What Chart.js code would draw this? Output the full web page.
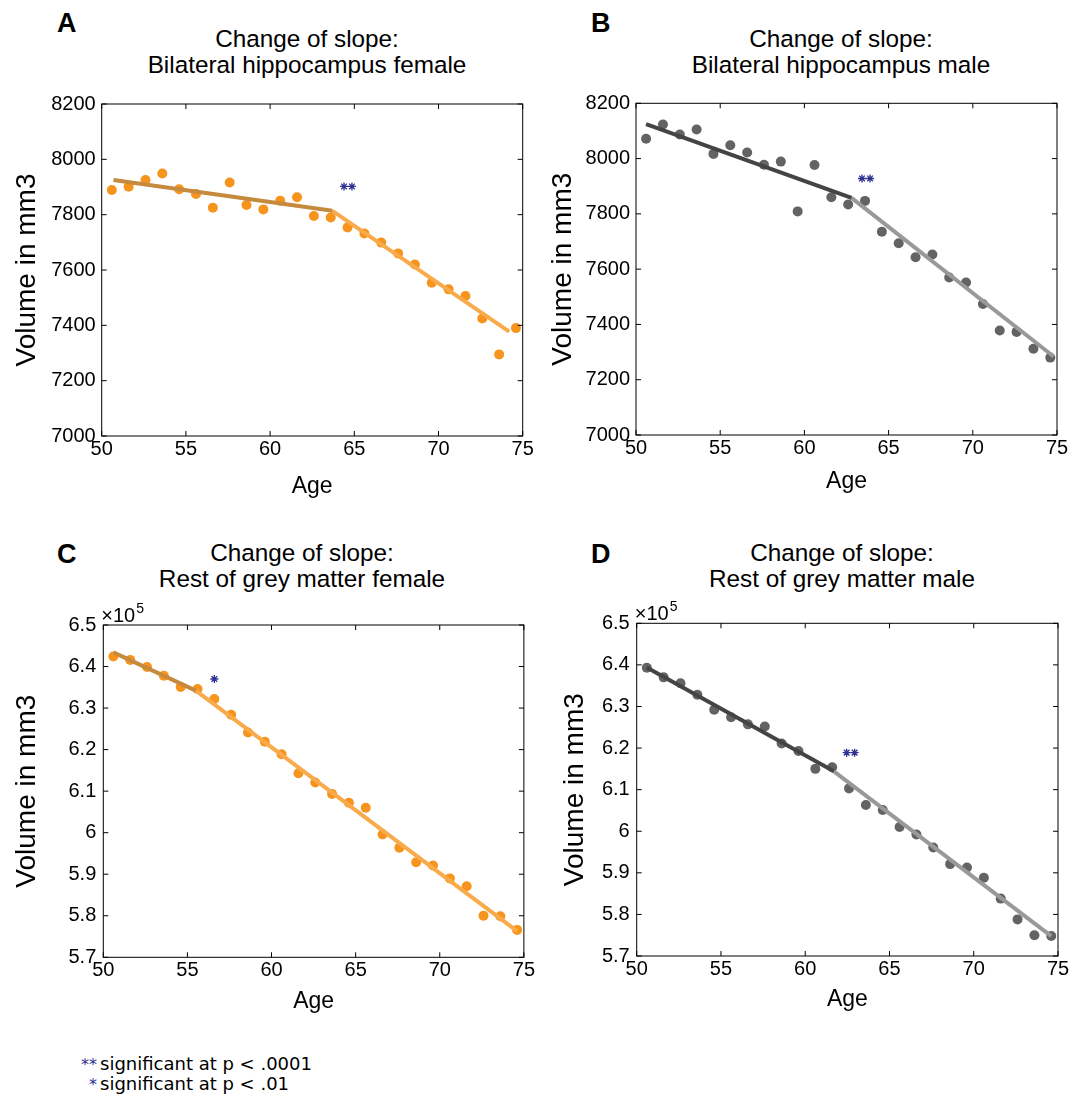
<!DOCTYPE html>
<html>
<head>
<meta charset="utf-8">
<script src="https://cdn.jsdelivr.net/npm/chart.js@4.4.1/dist/chart.umd.min.js"></script>
<style>
  body { margin: 0; background: #fff; width: 1072px; height: 1098px; position: relative; overflow: hidden;
         font-family: "Liberation Sans", Arial, sans-serif; color: #000; }
  canvas { position: absolute; }
  .letter { position: absolute; font-weight: bold; font-size: 27px; line-height: 27px; }
  .title { position: absolute; width: 440px; text-align: center; font-size: 24.3px; line-height: 26px; white-space: nowrap; }
  .note { position: absolute; left: 0; font-family: "DejaVu Sans", sans-serif; font-size: 18px; line-height: 20px; white-space: nowrap; }
  .note span { display: inline-block; width: 97px; padding-right: 3px; text-align: right; color: #2e3192; font-size: 16px; }
</style>
</head>
<body>
<div class="letter" style="left:57px;top:10px">A</div>
<div class="letter" style="left:591px;top:10px">B</div>
<div class="letter" style="left:57px;top:541px">C</div>
<div class="letter" style="left:591px;top:541px">D</div>

<div class="title" style="left:87px;top:25.5px">Change of slope:<br>Bilateral hippocampus female</div>
<div class="title" style="left:621px;top:25.5px">Change of slope:<br>Bilateral hippocampus male</div>
<div class="title" style="left:82px;top:539.5px">Change of slope:<br>Rest of grey matter female</div>
<div class="title" style="left:622px;top:539.5px">Change of slope:<br>Rest of grey matter male</div>

<canvas id="chartA" width="536" height="520" style="left:0;top:0"></canvas>
<canvas id="chartB" width="536" height="520" style="left:536px;top:0"></canvas>
<canvas id="chartC" width="536" height="520" style="left:0;top:530px"></canvas>
<canvas id="chartD" width="536" height="520" style="left:536px;top:530px"></canvas>

<div class="note" style="top:1054px"><span>**</span>significant at p &lt; .0001</div>
<div class="note" style="top:1074px"><span>*</span>significant at p &lt; .01</div>

<script>
const ages = [50.6, 51.6, 52.6, 53.6, 54.6, 55.6, 56.6, 57.6, 58.6, 59.6, 60.6, 61.6, 62.6,
              63.6, 64.6, 65.6, 66.6, 67.6, 68.6, 69.6, 70.6, 71.6, 72.6, 73.6, 74.6];

// hippocampus volumes (mm3)
const hippoFemale = [7889, 7901, 7925, 7949, 7892, 7875, 7825, 7916, 7835, 7819, 7850, 7863, 7795,
                     7790, 7754, 7732, 7699, 7660, 7620, 7554, 7530, 7506, 7425, 7295, 7390];
const hippoMale = [8072, 8123, 8087, 8105, 8017, 8048, 8022, 7978, 7989, 7809, 7977, 7860, 7834,
                   7847, 7735, 7694, 7643, 7653, 7570, 7552, 7474, 7378, 7373, 7312, 7280];

// rest of grey matter (x10^5 mm3)
const greyFemale = [6.424, 6.416, 6.399, 6.378, 6.351, 6.346, 6.322, 6.284, 6.241, 6.219, 6.189, 6.143, 6.121,
                    6.093, 6.072, 6.060, 5.996, 5.964, 5.929, 5.921, 5.890, 5.871, 5.800, 5.799, 5.766];
const greyMale = [6.393, 6.370, 6.356, 6.328, 6.292, 6.274, 6.257, 6.252, 6.211, 6.193, 6.150, 6.154, 6.103,
                  6.063, 6.051, 6.010, 5.992, 5.961, 5.921, 5.913, 5.888, 5.838, 5.788, 5.750, 5.748];

// piecewise fits: [before break, after break]
const fitHippoFemaleX = [[50.7, 63.7], [63.7, 74.2]];
const fitHippoFemaleY = [[7925, 7814], [7814, 7377]];
const fitHippoMaleX = [[50.6, 62.8], [62.8, 74.8]];
const fitHippoMaleY = [[8125, 7858], [7858, 7284]];
const fitGreyFemaleX = [[50.6, 55.5], [55.5, 74.6]];
const fitGreyFemaleY = [[6.434, 6.342], [6.342, 5.763]];
const fitGreyMaleX = [[50.6, 61.7], [61.7, 74.6]];
const fitGreyMaleY = [[6.394, 6.144], [6.144, 5.748]];

// significance asterisks
const starHippoFemaleX = [64.39, 64.86], starHippoFemaleY = [7902, 7902];
const starHippoMaleX = [63.42, 63.9], starHippoMaleY = [7928, 7928];
const starGreyFemaleX = [56.6], starGreyFemaleY = [6.370];
const starGreyMaleX = [62.46, 62.93], starGreyMaleY = [6.189, 6.189];

const xTicksRange = [50, 75, 5];
const hippoRange = [7000, 8200, 200];
const greyRange = [5.7, 6.5, 0.1];

const FONT = '"Liberation Sans", Arial, sans-serif';
const STAR_COLOR = '#2e3192';

const zip = (xs, ys) => xs.map((x, i) => ({ x: x, y: ys[i] }));

// box with inward ticks on all four sides
const boxPlugin = {
  id: 'box',
  afterDraw(chart) {
    const { ctx, chartArea: a, scales } = chart;
    ctx.save();
    ctx.strokeStyle = '#000';
    ctx.lineWidth = 1;
    ctx.strokeRect(a.left, a.top, a.right - a.left, a.bottom - a.top);
    ctx.beginPath();
    scales.x.ticks.forEach(t => {
      const px = scales.x.getPixelForValue(t.value);
      ctx.moveTo(px, a.bottom); ctx.lineTo(px, a.bottom - 5);
      ctx.moveTo(px, a.top); ctx.lineTo(px, a.top + 5);
    });
    scales.y.ticks.forEach(t => {
      const py = scales.y.getPixelForValue(t.value);
      ctx.moveTo(a.left, py); ctx.lineTo(a.left + 5, py);
      ctx.moveTo(a.right, py); ctx.lineTo(a.right - 5, py);
    });
    ctx.stroke();
    ctx.restore();
  }
};

// "x10^5" multiplier above the y axis
const expoPlugin = {
  id: 'expo',
  afterDraw(chart) {
    const { ctx, chartArea: a } = chart;
    ctx.save();
    ctx.fillStyle = '#000';
    ctx.textBaseline = 'alphabetic';
    ctx.font = '20px ' + FONT;
    ctx.fillText('\u00d710', a.left - 2, a.top - 3);
    const w = ctx.measureText('\u00d710').width;
    ctx.font = '14px ' + FONT;
    ctx.fillText('5', a.left - 1 + w, a.top - 12);
    ctx.restore();
  }
};

function makePanel(id, p) {
  const W = 536, H = 520;
  const padLeft = p.yTitleX - p.left - 16.8;
  const yWidth = p.area.l - p.left - padLeft;
  const xHeight = (p.xTitleY + 13.8) - p.area.b;
  const padBottom = p.top + H - (p.area.b + xHeight);

  new Chart(document.getElementById(id), {
    data: {
      datasets: [
        { type: 'line', data: zip(p.fitX[0], p.fitY[0]), borderColor: p.fit1, borderWidth: 4,
          pointRadius: 0, fill: false, order: 1 },
        { type: 'line', data: zip(p.fitX[1], p.fitY[1]), borderColor: p.fit2, borderWidth: 4,
          pointRadius: 0, fill: false, order: 1 },
        { type: 'scatter', data: zip(ages, p.values), backgroundColor: p.dot, borderWidth: 0,
          pointRadius: 5, order: 2 },
        { type: 'scatter', data: zip(p.starX, p.starY), pointStyle: 'star', pointRadius: 4,
          borderColor: STAR_COLOR, borderWidth: 1.3, order: 0 }
      ]
    },
    options: {
      responsive: false,
      animation: false,
      devicePixelRatio: 1,
      layout: { padding: { left: padLeft, top: p.area.t - p.top, right: p.left + W - p.area.r, bottom: padBottom } },
      plugins: { legend: { display: false }, tooltip: { enabled: false } },
      scales: {
        x: {
          type: 'linear', min: xTicksRange[0], max: xTicksRange[1],
          grid: { display: false, drawTicks: false, tickLength: 0 },
          border: { display: false },
          ticks: { stepSize: xTicksRange[2], padding: 1, color: '#000', font: { family: FONT, size: 20 } },
          title: { display: true, text: 'Age', color: '#000', padding: 0, font: { family: FONT, size: 23 } },
          afterFit(scale) { scale.height = xHeight; }
        },
        y: {
          type: 'linear', min: p.range[0], max: p.range[1],
          grid: { display: false, drawTicks: false, tickLength: 0 },
          border: { display: false },
          ticks: { stepSize: p.range[2], padding: p.tickPad, color: '#000', font: { family: FONT, size: 20 },
                   callback: v => String(Number(v.toFixed(1))) },
          title: { display: true, text: 'Volume in mm3', color: '#000', padding: 0, font: { family: FONT, size: 28 } },
          afterFit(scale) { scale.width = yWidth; }
        }
      }
    },
    plugins: p.expo ? [boxPlugin, expoPlugin] : [boxPlugin]
  });
}

makePanel('chartA', {
  left: 0, top: 0, area: { l: 101.7, r: 522.7, t: 104, b: 436 }, yTitleX: 27, xTitleY: 487,
  values: hippoFemale, fitX: fitHippoFemaleX, fitY: fitHippoFemaleY, starX: starHippoFemaleX, starY: starHippoFemaleY,
  range: hippoRange, tickPad: 6, dot: '#f7941d', fit1: '#c68a3f', fit2: '#f9ab4b', expo: false
});
makePanel('chartB', {
  left: 536, top: 0, area: { l: 636, r: 1057, t: 103.3, b: 435 }, yTitleX: 563, xTitleY: 482,
  values: hippoMale, fitX: fitHippoMaleX, fitY: fitHippoMaleY, starX: starHippoMaleX, starY: starHippoMaleY,
  range: hippoRange, tickPad: 6, dot: '#636363', fit1: '#444444', fit2: '#999999', expo: false
});
makePanel('chartC', {
  left: 0, top: 530, area: { l: 103.3, r: 524, t: 625, b: 957.3 }, yTitleX: 27, xTitleY: 1002,
  values: greyFemale, fitX: fitGreyFemaleX, fitY: fitGreyFemaleY, starX: starGreyFemaleX, starY: starGreyFemaleY,
  range: greyRange, tickPad: 7, dot: '#f7941d', fit1: '#c68a3f', fit2: '#f9ab4b', expo: true
});
makePanel('chartD', {
  left: 536, top: 530, area: { l: 636.7, r: 1058, t: 623.3, b: 956 }, yTitleX: 575, xTitleY: 1000,
  values: greyMale, fitX: fitGreyMaleX, fitY: fitGreyMaleY, starX: starGreyMaleX, starY: starGreyMaleY,
  range: greyRange, tickPad: 7, dot: '#636363', fit1: '#444444', fit2: '#999999', expo: true
});
</script>
</body>
</html>
